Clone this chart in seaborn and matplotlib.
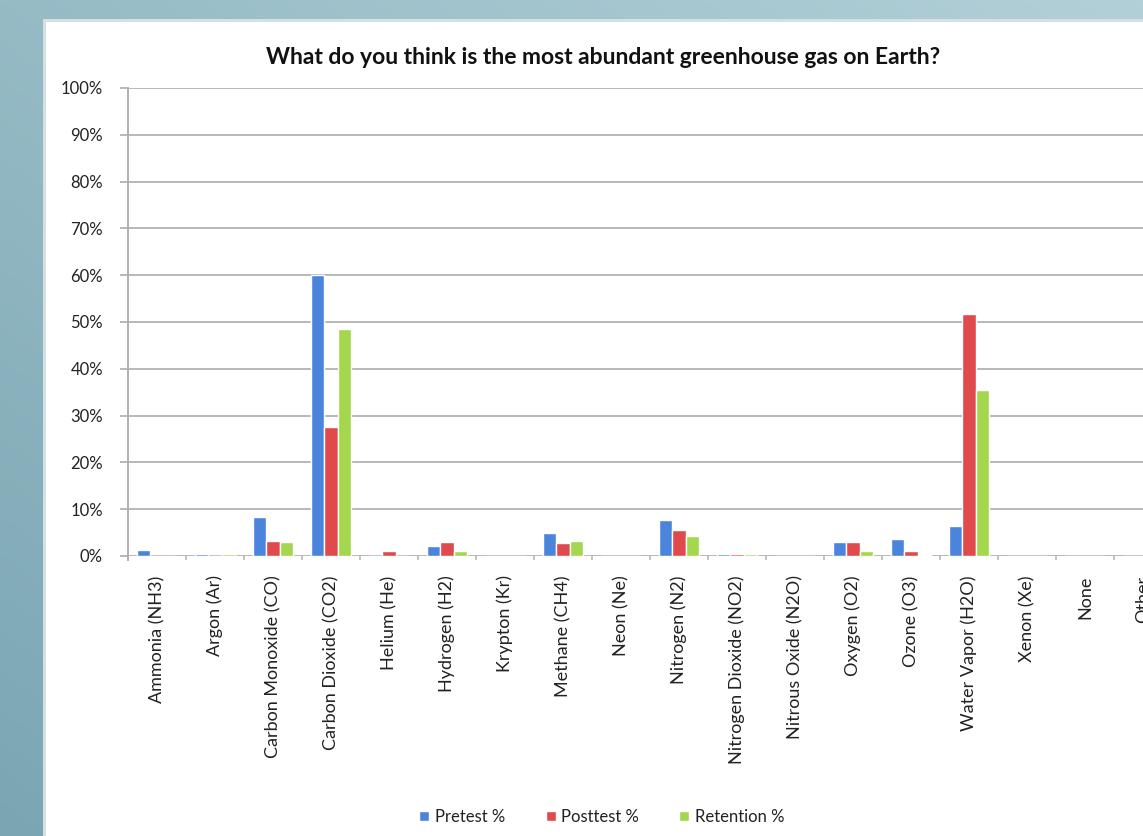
import numpy as np
import pandas as pd
import matplotlib
matplotlib.use("Agg")
import matplotlib.pyplot as plt
from matplotlib.patches import Rectangle
from matplotlib.ticker import FixedLocator, PercentFormatter
import seaborn as sns

# Survey answers: share of students naming each gas, per test round (%)
gases = [
    "Ammonia (NH3)", "Argon (Ar)", "Carbon Monoxide (CO)", "Carbon Dioxide (CO2)",
    "Helium (He)", "Hydrogen (H2)", "Krypton (Kr)", "Methane (CH4)", "Neon (Ne)",
    "Nitrogen (N2)", "Nitrogen Dioxide (NO2)", "Nitrous Oxide (N2O)", "Oxygen (O2)",
    "Ozone (O3)", "Water Vapor (H2O)", "Xenon (Xe)", "None", "Other",
]
pretest = [1.2, 0.5, 8.3, 60.0, 0.0, 2.2, 0.0, 4.9, 0.0, 7.6, 0.5, 0.0, 3.0, 3.7, 6.5, 0.0, 0.0, 0.0]
posttest = [0.0, 0.0, 3.2, 27.5, 1.1, 3.0, 0.0, 2.7, 0.0, 5.5, 0.5, 0.0, 3.0, 1.0, 51.7, 0.0, 0.0, 0.0]
retention = [0.0, 0.5, 2.9, 48.5, 0.0, 1.1, 0.0, 3.2, 0.0, 4.2, 0.5, 0.0, 1.0, 0.3, 35.5, 0.0, 0.0, 0.0]
series_names = ["Pretest %", "Posttest %", "Retention %"]
y_ticks = list(range(0, 101, 10))

df = pd.DataFrame({
    "gas": gases * 3,
    "value": pretest + posttest + retention,
    "series": np.repeat(series_names, len(gases)),
})

sns.set_theme(style="white")
plt.rcParams["font.family"] = ["Lato", "DejaVu Sans"]

W, H = 1143, 836
fig = plt.figure(figsize=(W / 100, H / 100), dpi=100)

# Teal backdrop with a soft diagonal gradient
bg = fig.add_axes([0, 0, 1, 1], zorder=-10)
gy, gx = np.mgrid[0:1:200j, 0:1:300j]
grad = 0.5 * gx + 0.5 * gy
cmap = matplotlib.colors.LinearSegmentedColormap.from_list("teal", ["#7aa6b3", "#b2d0d8"])
bg.imshow(grad, cmap=cmap, aspect="auto", extent=[0, 1, 0, 1], origin="lower")
bg.set_axis_off()

# White chart panel
panel_l, panel_t = 46 / W, 1 - 22 / H
fig.patches.append(Rectangle((panel_l - 0.003, -0.01), 1.1, panel_t + 0.014,
                             transform=fig.transFigure, facecolor="#d4e0e3",
                             edgecolor="none", zorder=-5))
fig.patches.append(Rectangle((panel_l, -0.01), 1.1, panel_t + 0.01,
                             transform=fig.transFigure, facecolor="white",
                             edgecolor="none", zorder=-4))

ax_l, ax_r = 128 / W, 1172 / W
ax_b, ax_t = 1 - 556 / H, 1 - 88 / H
ax = fig.add_axes([ax_l, ax_b, ax_r - ax_l, ax_t - ax_b])
ax.set_facecolor("none")

palette = {"Pretest %": "#4a84dc", "Posttest %": "#e04a4c", "Retention %": "#a4d64e"}
sns.barplot(data=df, x="gas", y="value", hue="series", palette=palette,
            width=0.68, saturation=1, ax=ax, legend=True, zorder=3)

ax.set_xlim(-0.5, len(gases) - 0.5)
ax.set_ylim(0, 100)
ax.yaxis.set_major_locator(FixedLocator(y_ticks))
ax.yaxis.set_major_formatter(PercentFormatter(decimals=0))
ax.grid(axis="y", color="#b8b8b8", linewidth=1.4, zorder=0)
ax.set_axisbelow(True)

for s in ["top", "right", "bottom"]:
    ax.spines[s].set_visible(False)
ax.spines["left"].set_color("#b0b0b0")
ax.spines["left"].set_linewidth(1.4)
ax.spines["left"].set_bounds(-0.8, 100)

ax.tick_params(axis="y", which="major", left=True, length=6, width=1.4, color="#b8b8b8",
               labelsize=12, labelcolor="#222222", pad=12)
ax.set_xticks(range(len(gases)))
ax.set_xticklabels(gases, rotation=90, fontsize=13, color="#222222")
ax.tick_params(axis="x", which="major", length=0, pad=14)
ax.set_xticks(np.arange(-0.5, len(gases), 1.0), minor=True)
ax.tick_params(axis="x", which="minor", bottom=True, length=3, width=1.2, color="#b8b8b8", pad=2)
ax.set_xlabel("")
ax.set_ylabel("")

fig.text((258 + 948) / 2 / W, 1 - 57 / H,
         "What do you think is the most abundant greenhouse gas on Earth?",
         ha="center", va="center", fontsize=16.5, fontweight="bold", color="#111111")

handles, labels = ax.get_legend_handles_labels()
ax.get_legend().remove()
fig.legend(handles, labels, loc="center", bbox_to_anchor=(602 / W, 1 - 817 / H),
           ncol=3, frameon=False, fontsize=12, handlelength=0.6, handleheight=0.6,
           handletextpad=0.35, columnspacing=2.4, labelcolor="#222222")

fig.savefig("out.png", dpi=100)
